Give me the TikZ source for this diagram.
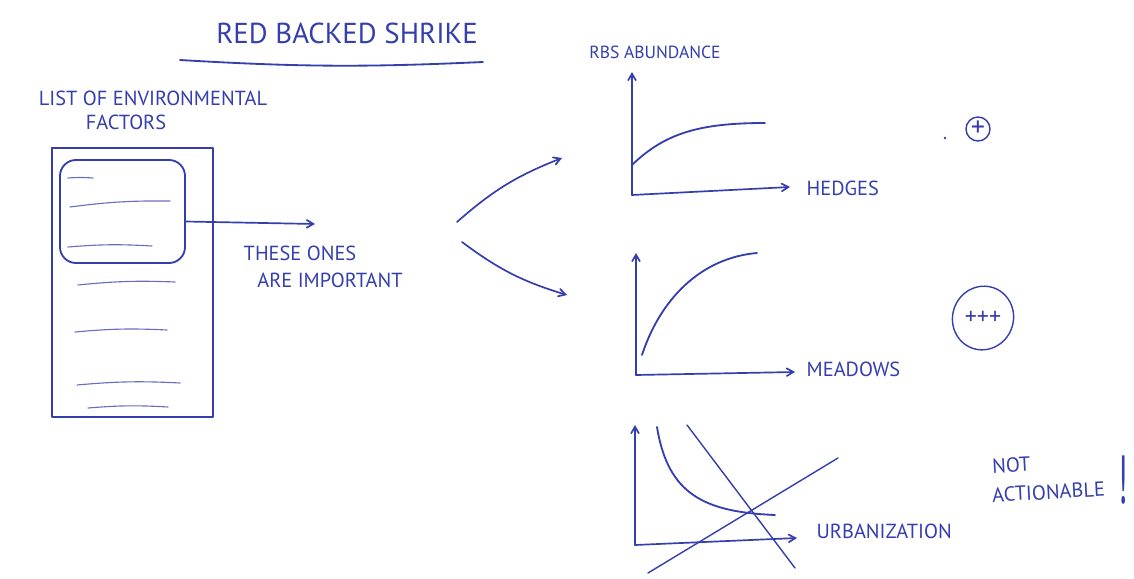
\documentclass[tikz,border=0pt]{standalone}
\usepackage{fontspec}
\setmainfont{PT Sans}
\usetikzlibrary{arrows, shapes.geometric}
\definecolor{ink}{RGB}{52,62,172}
\tikzset{
    heading/.style={text=ink, font=\fontsize{20.5}{24}\selectfont},
    note/.style={text=ink, font=\fontsize{14.5}{18}\selectfont, inner sep=1pt},
    axislabel/.style={text=ink, font=\fontsize{14.5}{17}\selectfont, anchor=west, inner sep=1pt},
    listbox/.style={draw=ink, line width=1.3pt, inner sep=0pt},
    listline/.style={draw=ink!75, line width=0.8pt},
    axis/.style={draw=ink, line width=1.2pt, ->},
    trend/.style={draw=ink, line width=1.3pt},
    signmark/.style={text=ink, inner sep=0pt, font=\fontsize{17}{19}\selectfont}
}

\begin{document}
\begin{tikzpicture}[
        x=0.025cm, y=-0.025cm, >=angle 60,
        line cap=round, line join=round
    ]
        \useasboundingbox (0,0) rectangle (1134,579);

        % title
        \node[heading] (title) at (347,33) {RED BACKED SHRIKE};
        \coordinate (ul-a) at (180,60);
        \coordinate (ul-b) at (483,62);
        \draw[trend] (ul-a) to[bend right=3] (ul-b);

        % list of factors
        \node[note] (list) at (153,98) {LIST OF ENVIRONMENTAL};
        \node[note] (factors) at (126,122) {FACTORS};
        \node[listbox, minimum width=4.025cm, minimum height=6.725cm] (factorlist) at (132.5,282.5) {};
        \node[listbox, rounded corners=0.4cm, minimum width=3.125cm, minimum height=2.575cm] (imp) at (122.5,211.5) {};
        \foreach \xa/\ya/\xb/\yb in {68/178/93/178, 70/207/170/201, 68/247/152/246,
                                      78/285/175/282, 75/332/167/330, 77/385/180/383, 88/408/168/407}
            \draw[listline] (\xa,\ya) to[bend left=4] (\xb,\yb);

        \coordinate (imp-tip) at (315,224);
        \draw[axis] ([yshift=-0.25cm]imp.east) -- (imp-tip);
        \node[note] (these) at (300,253) {THESE ONES};
        \node[note] (important) at (330,280) {ARE IMPORTANT};

        % fork to the graphs
        \coordinate (fork-a) at (457,222);
        \coordinate (fork-b) at (462,242);
        \coordinate (to-hedges) at (562,158);
        \coordinate (to-meadows) at (567,295);
        \draw[axis] (fork-a) to[bend left=10] (to-hedges);
        \draw[axis] (fork-b) to[bend right=10] (to-meadows);

        % hedges
        \node[note, font=\fontsize{12.5}{15}\selectfont] (rbs) at (655,52) {RBS ABUNDANCE};
        \coordinate (o1) at (632,195);
        \coordinate (y1) at (632,72);
        \coordinate (x1) at (790,187);
        \draw[axis] (o1) -- (y1);
        \draw[axis] (o1) -- (x1);
        \node[axislabel] (hedges) at (805,188) {HEDGES};
        \draw[trend] (632,165) .. controls (665,133) and (700,123) .. (765,123);
        \fill[ink] (945,138) circle (0.035cm);
        \node[signmark, circle, draw=ink, line width=1pt, minimum size=0.6cm, font=\fontsize{20}{22}\selectfont] (plus) at (978,129) {+};

        % meadows
        \coordinate (o2) at (636,375);
        \coordinate (y2) at (636,253);
        \coordinate (x2) at (795,372);
        \draw[axis] (o2) -- (y2);
        \draw[axis] (o2) -- (x2);
        \node[axislabel] (meadows) at (805,369) {MEADOWS};
        \draw[trend] (642,355) .. controls (660,300) and (700,258) .. (757,253);
        \node[signmark] (plusplus) at (983,318) {+++};
        \draw[draw=ink, line width=1pt, rotate around={-20:(plusplus.center)}] (plusplus.center) ellipse (0.76cm and 0.8cm);

        % urbanization
        \coordinate (o3) at (635,545);
        \coordinate (y3) at (635,425);
        \coordinate (x3) at (797,538);
        \draw[axis] (o3) -- (y3);
        \draw[axis] (o3) -- (x3);
        \node[axislabel] (urban) at (815,531) {URBANIZATION};
        \draw[trend] (657,427) .. controls (668,495) and (705,512) .. (775,515);
        \draw[trend, line width=1pt] (687,425) -- (795,568);
        \draw[trend, line width=1pt] (648,573) -- (838,458);
        \node[note, anchor=west, inner sep=0pt, rotate=3] (nottxt) at (992,466) {NOT};
        \node[note, anchor=west, inner sep=0pt, rotate=3] (actionable) at (992,495) {ACTIONABLE};
        \node[text=ink, inner sep=0pt, font=\fontsize{44}{48}\selectfont] (bang) at (1123,480) {\scalebox{0.5}[1.1]{!}};
    \end{tikzpicture}
\end{document}
